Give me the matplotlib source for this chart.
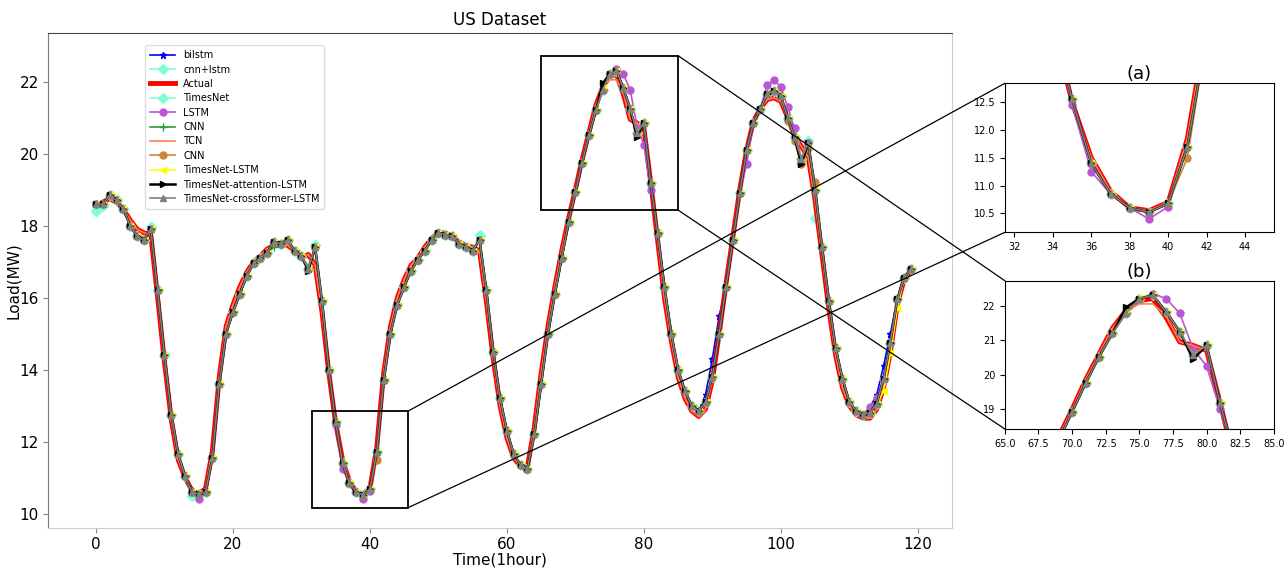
import matplotlib.pyplot as plt
from matplotlib.patches import Rectangle, ConnectionPatch

hours = list(range(120))

actual = [18.55, 18.65, 18.75, 18.65, 18.45, 18.15, 17.9, 17.8, 17.75, 16.0,
          14.2, 12.6, 11.5, 11.0, 10.65, 10.55, 10.7, 11.75, 13.8, 15.2,
          15.8, 16.3, 16.7, 17.0, 17.15, 17.35, 17.45, 17.5, 17.45, 17.3,
          17.1, 17.2, 16.9, 15.6, 13.9, 12.5, 11.5, 10.9, 10.6, 10.55,
          10.7, 11.85, 13.9, 15.2, 16.0, 16.5, 16.9, 17.1, 17.4, 17.65,
          17.8, 17.8, 17.7, 17.55, 17.45, 17.4, 17.3, 15.9, 14.3, 13.0,
          12.1, 11.55, 11.3, 11.3, 12.4, 13.9, 15.2, 16.3, 17.3, 18.2,
          19.0, 19.85, 20.6, 21.35, 21.85, 22.15, 22.2, 21.65, 20.95, 20.85,
          20.7, 19.2, 17.6, 16.0, 14.8, 13.8, 13.2, 12.85, 12.7, 12.9,
          13.7, 15.0, 16.4, 17.7, 19.0, 20.1, 20.9, 21.25, 21.5, 21.55,
          21.45, 21.0, 20.5, 20.2, 19.9, 18.7, 17.2, 15.7, 14.4, 13.5,
          13.0, 12.75, 12.65, 12.65, 12.9, 13.5, 14.5, 15.8, 16.5, 16.75]

# centre of the bundle of model predictions
pred = [18.6, 18.6, 18.85, 18.7, 18.45, 18.0, 17.7, 17.6, 17.9, 16.2,
        14.4, 12.75, 11.65, 11.05, 10.6, 10.55, 10.6, 11.55, 13.6, 15.0,
        15.6, 16.1, 16.6, 16.95, 17.1, 17.25, 17.55, 17.5, 17.6, 17.3,
        17.15, 16.8, 17.4, 15.9, 14.0, 12.55, 11.4, 10.85, 10.6, 10.52,
        10.68, 11.7, 13.7, 15.0, 15.8, 16.3, 16.75, 17.05, 17.3, 17.6,
        17.8, 17.75, 17.7, 17.5, 17.4, 17.3, 17.6, 16.2, 14.5, 13.2,
        12.3, 11.65, 11.35, 11.25, 12.2, 13.6, 15.0, 16.1, 17.1, 18.1,
        18.93, 19.75, 20.52, 21.2, 21.78, 22.2, 22.3, 21.82, 21.25, 20.57,
        20.85, 19.17, 17.8, 16.3, 15.0, 14.0, 13.4, 13.0, 12.85, 13.1,
        13.8, 15.0, 16.3, 17.6, 18.9, 20.1, 20.85, 21.25, 21.65, 21.75,
        21.6, 21.0, 20.45, 19.85, 20.3, 19.0, 17.4, 15.9, 14.6, 13.75,
        13.1, 12.85, 12.75, 12.8, 13.05, 13.75, 14.75, 15.95, 16.55, 16.8]

# points where a single model visibly leaves the bundle
dev_bilstm = {89: 13.3, 90: 14.3, 91: 15.5, 113: 12.95, 114: 13.3, 115: 14.1, 116: 15.0}
dev_cnnlstm = {0: 18.4, 8: 17.95, 32: 17.45, 56: 17.7, 103: 19.75, 104: 20.35, 105: 18.2}
dev_timesnet = {0: 18.4, 1: 18.55, 8: 17.95, 14: 10.5, 32: 17.45, 56: 17.75, 104: 20.35}
dev_lstm = {15: 10.4, 35: 12.45, 36: 11.25, 39: 10.4, 40: 10.62, 76: 22.35, 77: 22.2,
            78: 21.78, 79: 20.75, 80: 20.25, 81: 19.0, 95: 19.7, 98: 21.9, 99: 22.05,
            100: 21.85, 101: 21.3, 102: 20.7, 113: 12.95, 114: 13.2}
dev_cnn = {26: 17.4, 31: 16.85}
dev_tcn = {75: 22.05, 76: 22.05, 77: 21.7}
dev_cnn2 = {41: 11.5, 101: 20.9, 102: 20.35, 103: 19.7, 104: 20.15, 105: 19.2}
dev_tnlstm = {74: 21.9, 75: 22.25, 104: 20.25, 115: 13.4, 116: 14.45, 117: 15.7}
dev_tnatt = {31: 16.75, 74: 21.95, 79: 20.45, 103: 19.7}
dev_tncross = {}

models = [
    ("bilstm", dev_bilstm, "blue", "*", 5, 1.2),
    ("cnn+lstm", dev_cnnlstm, "aquamarine", "D", 5, 1.2),
    ("Actual", None, "red", None, 0, 3.5),
    ("TimesNet", dev_timesnet, "aquamarine", "D", 5, 1.2),
    ("LSTM", dev_lstm, "mediumorchid", "o", 5, 1.2),
    ("CNN", dev_cnn, "tab:green", "+", 6, 1.2),
    ("TCN", dev_tcn, "coral", None, 0, 1.2),
    ("CNN", dev_cnn2, "peru", "o", 5, 1.2),
    ("TimesNet-LSTM", dev_tnlstm, "yellow", "<", 5, 1.2),
    ("TimesNet-attention-LSTM", dev_tnatt, "black", ">", 5, 1.8),
    ("TimesNet-crossformer-LSTM", dev_tncross, "gray", "^", 5, 1.2),
]

fig = plt.figure(figsize=(12.85, 5.69), dpi=100)
ax = fig.add_axes([0.0374, 0.072, 0.7035, 0.87])
ax_a = fig.add_axes([0.782, 0.5917, 0.2093, 0.2619])
ax_b = fig.add_axes([0.782, 0.246, 0.2093, 0.2606])


def draw(a):
    for name, dev, color, marker, ms, lw in models:
        if dev is None:
            y = actual
        else:
            src = actual if name == "TCN" else pred
            y = [dev.get(i, v) for i, v in enumerate(src)]
        a.plot(hours, y, color=color, marker=marker, markersize=ms, lw=lw,
               label=name)


draw(ax)
ax.set_xlim(-7, 125)
ax.set_ylim(9.6, 23.35)
ax.set_yticks([10, 12, 14, 16, 18, 20, 22])
ax.tick_params(labelsize=11, color="#888", pad=3)
ax.set_xlabel("Time(1hour)", fontsize=11, labelpad=0)
ax.set_ylabel("Load(MW)", fontsize=11, labelpad=-1)
ax.set_title("US Dataset", fontsize=12, pad=6)
ax.spines["top"].set_color("#444")
ax.spines["left"].set_color("#777")
ax.spines["right"].set_color("#ccc")
ax.spines["bottom"].set_color("#ccc")
ax.legend(loc="upper left", bbox_to_anchor=(0.102, 0.985), fontsize=7,
          labelspacing=0.45, handlelength=2.6, borderpad=0.5, framealpha=1,
          edgecolor="#ddd")

draw(ax_a)
ax_a.set_xlim(31.5, 45.5)
ax_a.set_ylim(10.16, 12.84)
ax_a.set_xticks([32, 34, 36, 38, 40, 42, 44])
ax_a.set_yticks([10.5, 11.0, 11.5, 12.0, 12.5])
ax_a.tick_params(labelsize=7)
ax_a.set_title("(a)", fontsize=13, pad=3)

draw(ax_b)
ax_b.set_xlim(65, 85)
ax_b.set_ylim(18.43, 22.72)
ax_b.set_xticks([65.0, 67.5, 70.0, 72.5, 75.0, 77.5, 80.0, 82.5, 85.0])
ax_b.set_yticks([19, 20, 21, 22])
ax_b.tick_params(labelsize=7)
ax_b.set_title("(b)", fontsize=13, pad=3)

for sub in (ax_a, ax_b):
    x0, x1 = sub.get_xlim()
    y0, y1 = sub.get_ylim()
    ax.add_patch(Rectangle((x0, y0), x1 - x0, y1 - y0, fill=False,
                           edgecolor="black", lw=1.3, zorder=20))
    for yy in (y0, y1):
        con = ConnectionPatch(xyA=(x1, yy), coordsA=ax.transData,
                              xyB=(x0, yy), coordsB=sub.transData,
                              color="black", lw=0.9)
        fig.add_artist(con)

fig.savefig("out.png", dpi=100)
